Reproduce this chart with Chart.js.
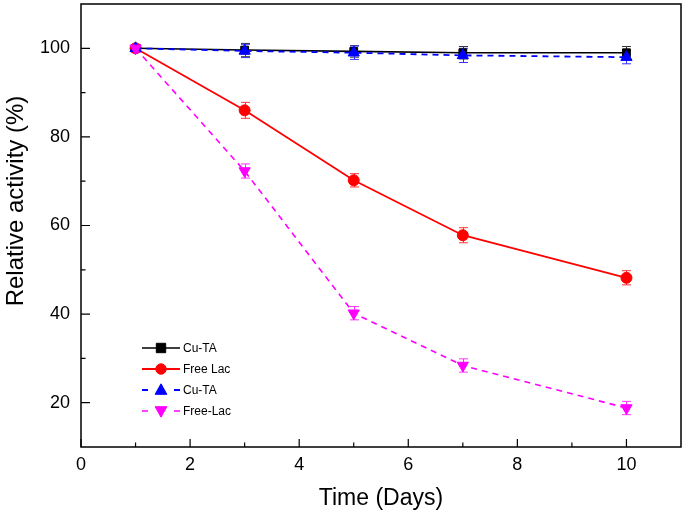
<!DOCTYPE html>
<html>
<head>
<meta charset="utf-8">
<script src="https://cdn.jsdelivr.net/npm/chart.js@4/dist/chart.umd.min.js"></script>
<style>
html,body{margin:0;padding:0;background:#fff;}
#wrap{width:685px;height:518px;position:relative;}
</style>
</head>
<body>
<div id="wrap"><canvas id="c" width="685" height="518"></canvas></div>
<script>
const days = [1, 3, 5, 7, 10];
const seriesNames = ['Cu-TA', 'Free Lac', 'Cu-TA', 'Free-Lac'];
const cuTA1 = [100, 99.6, 99.3, 99.0, 99.0];
const freeLac1 = [100, 86.0, 70.2, 57.8, 48.2];
const cuTA2 = [100, 99.4, 99.0, 98.4, 98.0];
const freeLac2 = [100, 72.3, 40.2, 28.4, 18.8];
const errCuTA1 = [0.5, 1.5, 1.3, 1.4, 1.4];
const errFreeLac1 = [0.8, 1.8, 1.5, 1.7, 1.6];
const errCuTA2 = [0.8, 1.5, 1.5, 1.6, 1.5];
const errFreeLac2 = [0.8, 1.6, 1.5, 1.5, 1.5];
const xTicks = [0, 2, 4, 6, 8, 10];
const xMinor = [1, 3, 5, 7, 9];
const yTicks = [20, 40, 60, 80, 100];
const yMinor = [30, 50, 70, 90];
const xTitle = 'Time (Days)';
const yTitle = 'Relative activity (%)';

const FONT = "Arial, 'Liberation Sans', Helvetica, sans-serif";

function pts(ys){ return days.map((d,i)=>({x:d,y:ys[i]})); }

const datasets = [
  {label: seriesNames[0], data: pts(cuTA1), errors: errCuTA1, borderColor:'#000000', backgroundColor:'#000000',
   pointStyle:'rect', pointRadius:5.5, pointRotation:0, borderWidth:1.6, borderDash:[], order:4, errColor:'#333333'},
  {label: seriesNames[1], data: pts(freeLac1), errors: errFreeLac1, borderColor:'#ff0000', backgroundColor:'#ff0000',
   pointStyle:'circle', pointRadius:5.5, pointRotation:0, borderWidth:1.8, borderDash:[], order:3, errColor:'#ff3333'},
  {label: seriesNames[2], data: pts(cuTA2), errors: errCuTA2, borderColor:'#0000ff', backgroundColor:'#0000ff',
   pointStyle:'triangle', pointRadius:6.5, pointRotation:0, borderWidth:1.8, borderDash:[6,5], order:2, errColor:'#3333ff'},
  {label: seriesNames[3], data: pts(freeLac2), errors: errFreeLac2, borderColor:'#ff00ff', backgroundColor:'#ff00ff',
   pointStyle:'triangle', pointRadius:6.5, pointRotation:180, borderWidth:1.6, borderDash:[6,5], order:1, errColor:'#ff33ff'}
];
datasets.forEach(d=>{ d.fill=false; d.tension=0; d.pointBorderWidth=1; d.pointBackgroundColor=d.backgroundColor; d.pointBorderColor=d.borderColor; });

function drawMarker(ctx, style, x, y, r, rot, color){
  ctx.save();
  ctx.fillStyle = color; ctx.strokeStyle = color; ctx.lineWidth = 1; ctx.setLineDash([]);
  ctx.beginPath();
  if (style === 'rect'){
    ctx.rect(x - r*0.9, y - r*0.9, r*1.8, r*1.8);
  } else if (style === 'circle'){
    ctx.arc(x, y, r, 0, Math.PI*2);
  } else {
    const s = rot === 180 ? -1 : 1;
    ctx.moveTo(x, y - s*r);
    ctx.lineTo(x + r*0.95, y + s*r*0.7);
    ctx.lineTo(x - r*0.95, y + s*r*0.7);
    ctx.closePath();
  }
  ctx.fill(); ctx.stroke();
  ctx.restore();
}

const framePlugin = {
  id:'frame',
  beforeDatasetsDraw(chart){
    const ctx = chart.ctx, xs = chart.scales.x, ys = chart.scales.y;
    chart.data.datasets.forEach(ds=>{
      ctx.save();
      ctx.strokeStyle = ds.errColor; ctx.lineWidth = 1; ctx.setLineDash([]);
      ds.data.forEach((p,i)=>{
        const e = ds.errors[i];
        const px = Math.round(xs.getPixelForValue(p.x)) + 0.5;
        const y1 = ys.getPixelForValue(p.y + e), y2 = ys.getPixelForValue(p.y - e);
        ctx.beginPath();
        ctx.moveTo(px, y1); ctx.lineTo(px, y2);
        ctx.moveTo(px-4.5, y1); ctx.lineTo(px+4.5, y1);
        ctx.moveTo(px-4.5, y2); ctx.lineTo(px+4.5, y2);
        ctx.stroke();
      });
      ctx.restore();
    });
  },
  afterDraw(chart){
    const ctx = chart.ctx, a = chart.chartArea, xs = chart.scales.x, ys = chart.scales.y;
    ctx.save();
    ctx.strokeStyle = '#000'; ctx.lineWidth = 1.5; ctx.setLineDash([]);
    ctx.strokeRect(a.left, a.top, a.right - a.left, a.bottom - a.top);
    ctx.lineWidth = 1.2;
    ctx.beginPath();
    xTicks.forEach(v=>{ const px = xs.getPixelForValue(v); ctx.moveTo(px, a.bottom); ctx.lineTo(px, a.bottom - 8); });
    xMinor.forEach(v=>{ const px = xs.getPixelForValue(v); ctx.moveTo(px, a.bottom); ctx.lineTo(px, a.bottom - 4.5); });
    yTicks.forEach(v=>{ const py = ys.getPixelForValue(v); ctx.moveTo(a.left, py); ctx.lineTo(a.left + 9, py); });
    yMinor.forEach(v=>{ const py = ys.getPixelForValue(v); ctx.moveTo(a.left, py); ctx.lineTo(a.left + 4.5, py); });
    ctx.stroke();
    // axis titles
    ctx.fillStyle = '#000';
    ctx.font = '23px ' + FONT;
    ctx.textAlign = 'center'; ctx.textBaseline = 'middle';
    ctx.fillText(xTitle, (a.left + a.right)/2, 499);
    ctx.save();
    ctx.translate(16, 201);
    ctx.rotate(-Math.PI/2);
    ctx.font = '24px ' + FONT;
    ctx.fillText(yTitle, 0, 0);
    ctx.restore();
    // legend
    const rows = [348, 369, 390, 411];
    ctx.font = '12px ' + FONT;
    ctx.textAlign = 'left';
    chart.data.datasets.forEach((ds,i)=>{
      const y = rows[i];
      ctx.save();
      ctx.strokeStyle = ds.borderColor; ctx.lineWidth = ds.borderWidth;
      ctx.setLineDash(ds.borderDash.length ? [6,10] : []);
      ctx.beginPath(); ctx.moveTo(142, y); ctx.lineTo(180, y); ctx.stroke();
      ctx.restore();
      drawMarker(ctx, ds.pointStyle, 161, y, ds.pointRadius*0.95, ds.pointRotation, ds.borderColor);
      ctx.fillStyle = '#000';
      ctx.fillText(ds.label, 183, y + 1);
    });
    ctx.restore();
  }
};

new Chart(document.getElementById('c'), {
  type:'line',
  data:{datasets},
  options:{
    responsive:false,
    animation:false,
    layout:{padding:{top:4, right:4, left:0, bottom:0}, autoPadding:false},
    plugins:{legend:{display:false}, tooltip:{enabled:false}},
    scales:{
      x:{type:'linear', min:0, max:11,
         afterBuildTicks(s){ s.ticks = xTicks.map(v=>({value:v})); },
         afterFit(s){ s.height = 71; s.paddingLeft = 0; s.paddingRight = 0; },
         grid:{display:false, drawTicks:false, tickLength:0},
         border:{display:false},
         ticks:{font:{family:FONT, size:18}, color:'#000', padding:7, maxRotation:0, autoSkip:false}},
      y:{type:'linear', min:10, max:110,
         afterBuildTicks(s){ s.ticks = yTicks.map(v=>({value:v})); },
         afterFit(s){ s.width = 81; s.paddingTop = 0; s.paddingBottom = 0; },
         grid:{display:false, drawTicks:false, tickLength:0},
         border:{display:false},
         ticks:{font:{family:FONT, size:18, lineHeight:0.4}, color:'#000', padding:11, autoSkip:false}}
    }
  },
  plugins:[framePlugin]
});
</script>
</body>
</html>
